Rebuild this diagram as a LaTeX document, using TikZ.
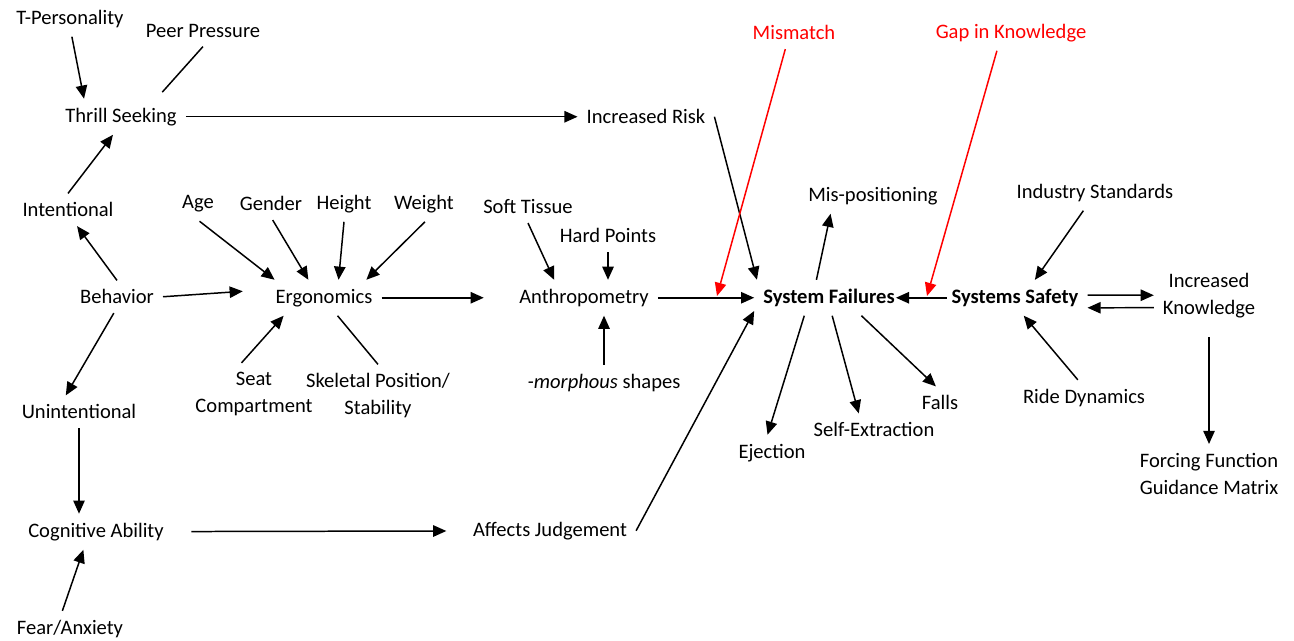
\documentclass[tikz,border=0pt]{standalone}
\usepackage{fontspec}
\setmainfont{Carlito}
\usetikzlibrary{arrows.meta}
\tikzset{font=\fontsize{11.7}{15.3}\selectfont}
\tikzstyle{txt}=[inner sep=5pt,align=center,yshift=-1pt]
\tikzstyle{boldtxt}=[txt,font=\fontsize{11.7}{15.3}\selectfont\bfseries]
\tikzstyle{warn}=[txt,text=red]
\tikzstyle{link}=[line width=0.85pt]
\tikzstyle{arr}=[link,-{Triangle[length=7.5pt,width=6.5pt]}]
\tikzstyle{redarr}=[arr,red]

\begin{document}
\begin{tikzpicture}[x=0.02cm,y=-0.02cm]
	\useasboundingbox (0,0) rectangle (1294,641);
	\node [style=txt] (tpers) at (70,17) {T-Personality};
	\node [style=txt] (peer) at (203,29) {Peer Pressure};
	\node [style=txt] (thrill) at (121,115) {Thrill Seeking};
	\node [style=txt] (incrisk) at (646,115) {Increased Risk};
	\node [style=warn] (mismatch) at (794,31) {Mismatch};
	\node [style=warn] (gap) at (1011,31) {Gap in Knowledge};
	\node [style=txt] (intent) at (68,208) {Intentional};
	\node [style=txt] (age) at (198,202) {Age};
	\node [style=txt] (gender) at (271,202) {Gender};
	\node [style=txt] (height) at (344,202) {Height};
	\node [style=txt] (weight) at (424,202) {Weight};
	\node [style=txt] (soft) at (528,205) {Soft Tissue};
	\node [style=txt] (hard) at (608,234) {Hard Points};
	\node [style=txt] (mispos) at (873,194) {Mis-positioning};
	\node [style=txt] (indstd) at (1095,191) {Industry Standards};
	\node [style=txt] (behav) at (117,295) {Behavior};
	\node [style=txt] (ergo) at (324,296) {Ergonomics};
	\node [style=txt] (anthro) at (584,296) {Anthropometry};
	\node [style=boldtxt] (sysf) at (829,296) {System Failures};
	\node [style=boldtxt] (syssafe) at (1015,296) {Systems Safety};
	\node [style=txt] (incknow) at (1209,293.5) {Increased\\Knowledge};
	\node [style=txt] (seat) at (254,392) {Seat\\Compartment};
	\node [style=txt] (skel) at (378,394) {Skeletal Position/\\Stability};
	\node [style=txt] (morph) at (604,381) {\textit{-morphous} shapes};
	\node [style=txt] (unint) at (79,410) {Unintentional};
	\node [style=txt] (ride) at (1084,396) {Ride Dynamics};
	\node [style=txt] (falls) at (940,401) {Falls};
	\node [style=txt] (selfex) at (874,428) {Self-Extraction};
	\node [style=txt] (eject) at (772,451) {Ejection};
	\node [style=txt] (forcing) at (1209,472) {Forcing Function\\Guidance Matrix};
	\node [style=txt] (cog) at (96,530) {Cognitive Ability};
	\node [style=txt] (affects) at (550,529) {Affects Judgement};
	\node [style=txt] (fear) at (70,627) {Fear/Anxiety};
	\coordinate (mmend) at (717,296);
	\coordinate (gapend) at (927,296);

	\draw [style=arr] (tpers.-84) to (thrill.154);
	\draw [style=link, shorten >=5pt] (peer.south) to (thrill.27);
	\draw [style=arr] (thrill) to (incrisk);
	\draw [style=arr] (intent.north) to (thrill.-114);
	\draw [style=arr] (behav.north) to (intent.-61);
	\draw [style=arr, shorten >=13.5pt] (behav.east) to (ergo.172);
	\draw [style=arr] (behav.-101) to (unint.129);
	\draw [style=arr] (unint.south) to (unint.south |- cog.north);
	\draw [style=arr, shorten <=10.5pt, shorten >=10pt] (cog) to (affects);
	\draw [style=arr] (fear.113) to (cog.-125);
	\draw [style=arr] (age.-85) to (ergo.160);
	\draw [style=arr] (gender.-84) to (ergo.131);
	\draw [style=arr] (height.south) to (ergo.51);
	\draw [style=arr] (weight.-87) to (ergo.23);
	\draw [style=arr] (seat.112) to (ergo.-156);
	\draw [style=link] (ergo.-53) to (skel.north);
	\draw [style=arr, shorten >=15pt] (ergo) to (anthro);
	\draw [style=arr] (soft.south) to (anthro.149);
	\draw [style=arr] (hard.south) to (hard.south |- anthro.north);
	\draw [style=arr] (morph.north) to (morph.north |- anthro.south);
	\draw [style=arr] (anthro) to (sysf);
	\draw [style=arr] (incrisk.east) to (sysf.166);
	\draw [style=redarr] (mismatch.-118) to (mmend);
	\draw [style=redarr] (gap.-128) to (gapend);
	\draw [style=arr] (sysf.125) to (mispos.-157);
	\draw [style=arr, shorten <=-2.4pt, shorten >=-4.5pt] (syssafe) to (sysf);
	\draw [style=arr] (indstd.-123) to (syssafe.42);
	\draw [style=arr] ([yshift=1.5pt]syssafe.east) to (incknow.west);
	\draw [style=arr] ([yshift=-7.1pt]incknow.west) to ([yshift=-5.7pt]syssafe.east);
	\draw [style=arr] (ride.109) to (syssafe.-64);
	\draw [style=arr, shorten <=6pt] (incknow) to (forcing);
	\draw [style=arr] (sysf.-144) to (eject.104);
	\draw [style=arr] (sysf.-80) to (selfex.133);
	\draw [style=arr] (sysf.-29) to (falls.104);
	\draw [style=arr] (affects.east) to (sysf.-170);
\end{tikzpicture}
\end{document}
